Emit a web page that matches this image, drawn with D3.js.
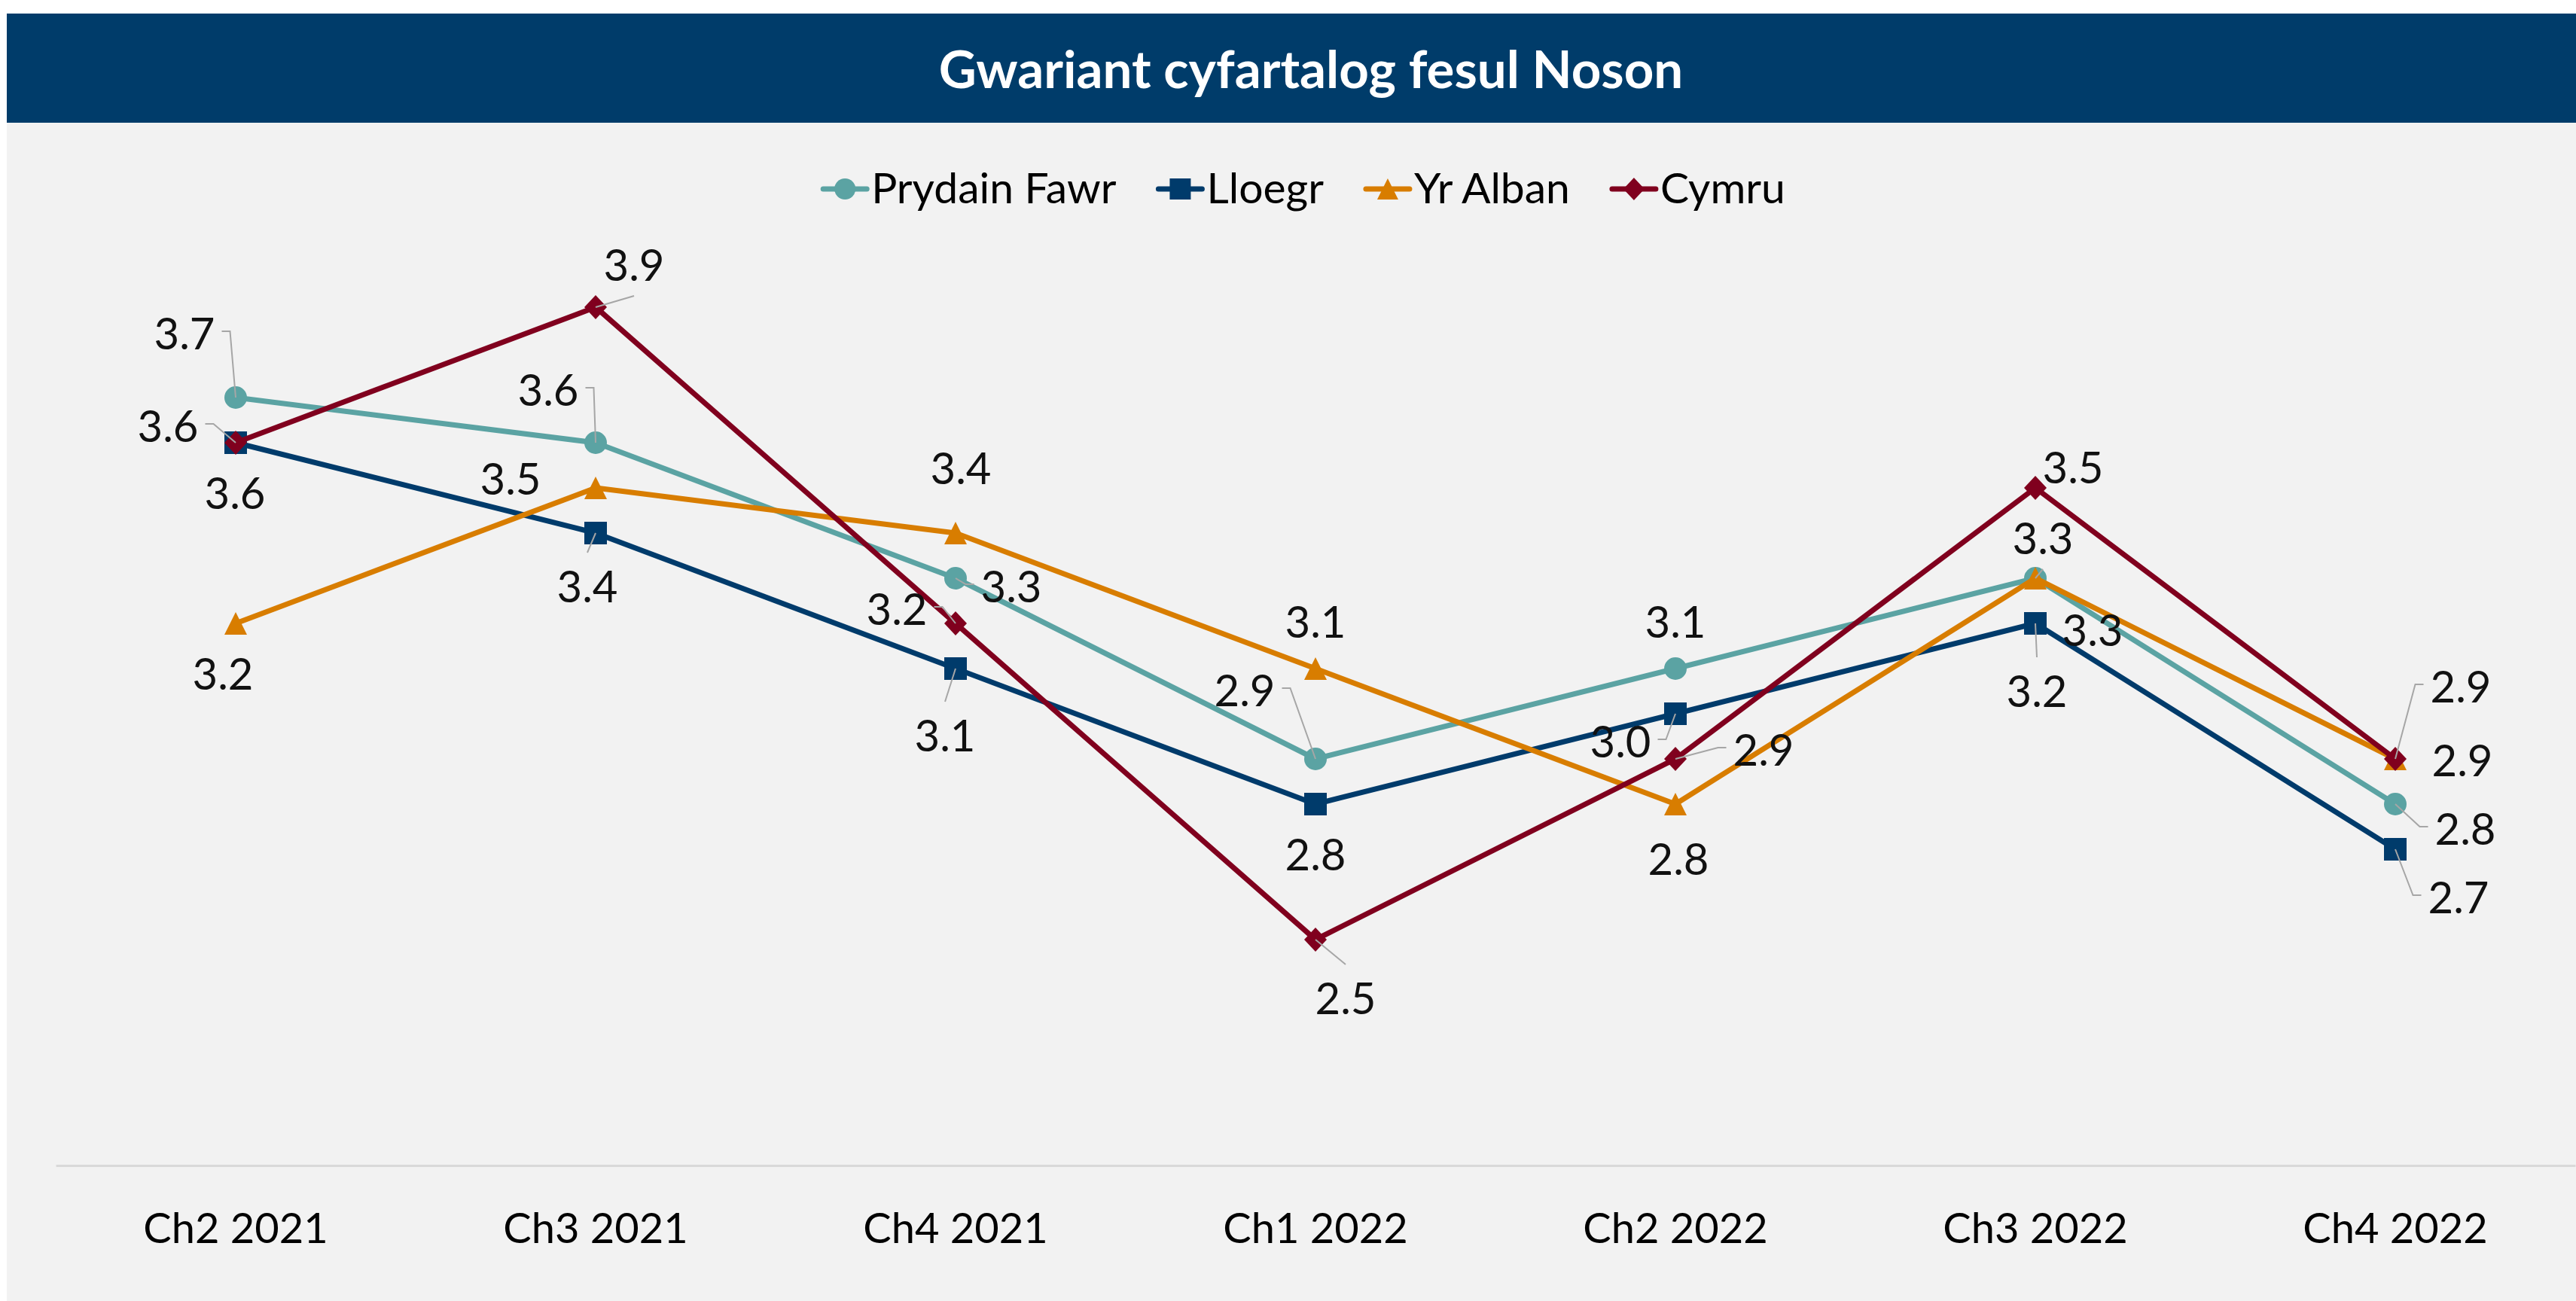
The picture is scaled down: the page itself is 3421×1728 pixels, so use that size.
<!DOCTYPE html>
<html>
<head>
<meta charset="utf-8">
<script src="https://cdn.jsdelivr.net/npm/d3@7"></script>
<style>
  body { margin: 0; background: #fff; }
  text { font-family: Lato, "Open Sans", sans-serif; }
</style>
</head>
<body>
<script type="text/javascript">
    const Width = 3421;
    const Height = 1728;

    // data
    const categories = ["Ch2 2021", "Ch3 2021", "Ch4 2021", "Ch1 2022", "Ch2 2022", "Ch3 2022", "Ch4 2022"];
    const seriesNames = ["Prydain Fawr", "Lloegr", "Yr Alban", "Cymru"];
    const prydainFawr = [3.7, 3.6, 3.3, 2.9, 3.1, 3.3, 2.8];
    const lloegr = [3.6, 3.4, 3.1, 2.8, 3.0, 3.2, 2.7];
    const yrAlban = [3.2, 3.5, 3.4, 3.1, 2.8, 3.3, 2.9];
    const cymru = [3.6, 3.9, 3.2, 2.5, 2.9, 3.5, 2.9];
    const yDomain = [2.0, 4.0];

    // looks
    const colors = ["#5ba3a3", "#003b6b", "#d87d00", "#80001e"];
    const shapes = ["circle", "square", "triangle", "diamond"];

    // where each data label sits relative to its point: [dx, dy, leader side]
    const labelLayout = [
        [[-68, -85, "r"], [-63, -70, "r"], [74, 11, "l"], [-94, -91, "r"], [0, -62, null], [10, -53, "b"], [93, 33, "l"]],
        [[-1, 67, null], [-11, 71, "t"], [-14, 89, "t"], [0, 67, null], [-73, 37, "r"], [2, 90, "t"], [84, 64, "l"]],
        [[-17, 67, null], [-113, -12, null], [7, -86, null], [0, -62, null], [4, 73, null], [76, 69, null], [89, 2, null]],
        [[-90, -22, "r"], [51, -56, "b"], [-78, -19, "r"], [40, 78, "t"], [117, -12, "l"], [50, -27, null], [87, -96, "l"]]
    ];

    const series = [prydainFawr, lloegr, yrAlban, cymru].map(function (vals, s) {
        return { name: seriesNames[s], values: vals, color: colors[s], shape: shapes[s], layout: labelLayout[s] };
    });

    const svg = d3.select("body")
        .append("svg")
        .attr("width", Width)
        .attr("height", Height);

    // background + title bar
    svg.append("rect").attr("x", 9).attr("y", 18).attr("width", Width - 9).attr("height", Height - 18).attr("fill", "#f2f2f2");
    svg.append("rect").attr("x", 9).attr("y", 18).attr("width", Width - 9).attr("height", 145).attr("fill", "#003c6a");
    svg.append("text")
        .attr("x", 1741).attr("y", 117)
        .attr("text-anchor", "middle")
        .attr("fill", "#fff")
        .attr("font-weight", "bold")
        .attr("font-size", 69)
        .text("Gwariant cyfartalog fesul Noson");

    // scales
    const x = d3.scaleBand().domain(categories).range([74, 3420]).padding(0);
    const cx = function (i) { return x(categories[i]) + x.bandwidth() / 2; };
    const y = d3.scaleLinear().domain(yDomain).range([1548, 348]);

    // x axis
    const gx = svg.append("g")
        .attr("transform", "translate(0,1548)")
        .call(d3.axisBottom(x).tickSize(0).tickSizeOuter(0).tickPadding(63));
    gx.select(".domain").attr("stroke", "#d9d9d9").attr("stroke-width", 3);
    gx.selectAll(".tick text")
        .attr("font-size", 56)
        .attr("font-family", "Lato, 'Open Sans', sans-serif")
        .attr("fill", "#000");

    // marker path, centred on its box
    function marker(shape, s) {
        const h = s / 2;
        if (shape === "circle") return d3.symbol().type(d3.symbolCircle).size(Math.PI * h * h)();
        if (shape === "square") return "M" + (-h) + "," + (-h) + "H" + h + "V" + h + "H" + (-h) + "Z";
        if (shape === "triangle") return "M0," + (-h) + "L" + h + "," + h + "L" + (-h) + "," + h + "Z";
        return "M0," + (-h - 1) + "L" + h + ",0L0," + (h + 1) + "L" + (-h) + ",0Z";
    }

    const line = d3.line()
        .x(function (d, i) { return cx(i); })
        .y(function (d) { return y(d); });

    // lines + markers
    series.forEach(function (s) {
        const g = svg.append("g");
        g.append("path")
            .attr("d", line(s.values))
            .attr("fill", "none")
            .attr("stroke", s.color)
            .attr("stroke-width", 7)
            .attr("stroke-linejoin", "round");
        g.selectAll("path.mk")
            .data(s.values)
            .enter()
            .append("path")
            .attr("class", "mk")
            .attr("d", marker(s.shape, 30))
            .attr("transform", function (d, i) { return "translate(" + cx(i) + "," + y(d) + ")"; })
            .attr("fill", s.color);
    });

    // data labels with leader lines
    const labels = svg.append("g");
    series.forEach(function (s) {
        s.values.forEach(function (v, i) {
            const px = cx(i), py = y(v);
            const lay = s.layout[i];
            const lx = px + lay[0], ly = py + lay[1];
            const t = labels.append("text")
                .attr("x", lx).attr("y", ly + 21)
                .attr("text-anchor", "middle")
                .attr("font-size", 58)
                .attr("fill", "#111")
                .text(d3.format(".1f")(v));
            const side = lay[2];
            if (!side) return;
            const hw = t.node().getComputedTextLength() / 2;
            let d;
            if (side === "r") {
                const sx = lx + hw + 9;
                d = "M" + sx + "," + (ly - 3) + "H" + (sx + 11) + "L" + px + "," + py;
            } else if (side === "l") {
                const sx = lx - hw - 9;
                d = "M" + sx + "," + (ly - 3) + "H" + (sx - 11) + "L" + px + "," + py;
            } else if (side === "t") {
                d = "M" + lx + "," + (ly - 45) + "L" + px + "," + py;
            } else {
                d = "M" + lx + "," + (ly + 41) + "L" + px + "," + py;
            }
            labels.insert("path", "text")
                .attr("d", d)
                .attr("fill", "none")
                .attr("stroke", "#a6a6a6")
                .attr("stroke-width", 2);
        });
    });

    // legend
    const legend = svg.append("g");
    let lxPos = 0;
    series.forEach(function (s, k) {
        const item = legend.append("g").attr("transform", "translate(" + lxPos + ",0)");
        item.append("line")
            .attr("x1", 0).attr("x2", 58).attr("y1", 0).attr("y2", 0)
            .attr("stroke", s.color).attr("stroke-width", 7).attr("stroke-linecap", "round");
        item.append("path").attr("d", marker(s.shape, 28)).attr("transform", "translate(29,0)").attr("fill", s.color);
        const t = item.append("text")
            .attr("x", 64).attr("y", 19)
            .attr("font-size", 57)
            .attr("fill", "#000")
            .text(s.name);
        lxPos += 64 + t.node().getComputedTextLength() + 56;
    });
    const legendWidth = lxPos - 56;
    legend.attr("transform", "translate(" + (1732 - legendWidth / 2) + ",251)");
</script>
</body>
</html>
